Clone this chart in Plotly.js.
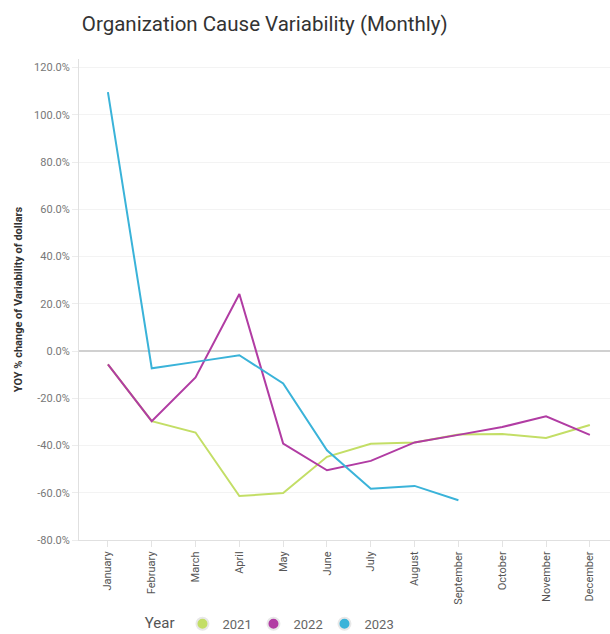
<!DOCTYPE html>
<html>
<head>
<meta charset="utf-8">
<script src="https://cdn.plot.ly/plotly-3.0.1.min.js"></script>
<style>html,body{margin:0;padding:0;background:#fff;}#chart{width:610px;height:634px;}</style>
</head>
<body>
<div id="chart"></div>
<script>
const months = ["January","February","March","April","May","June","July","August","September","October","November","December"];
const years = ["2021","2022","2023"];
const values2021 = [-5.7, -29.7, -34.5, -61.4, -60.1, -44.8, -39.3, -38.7, -35.3, -35.1, -36.8, -31.3];
const values2022 = [-5.7, -29.7, -11.2, 24.1, -39.2, -50.5, -46.5, -38.7, -35.5, -32.2, -27.6, -35.5];
const values2023 = [109.6, -7.3, -4.6, -1.8, -13.7, -42.0, -58.3, -57.1, -63.2];
const yTicks = [-80, -60, -40, -20, 0, 20, 40, 60, 80, 100, 120];
const yTickText = yTicks.map(v => v.toFixed(1) + "%");

const colors = ["#c3de66", "#b13ca3", "#3ab3d9"];
const series = [values2021, values2022, values2023];

const traces = [];
series.forEach((vals, i) => {
  traces.push({
    x: months.slice(0, vals.length),
    y: vals,
    type: "scatter",
    mode: "lines",
    line: {color: colors[i], width: 2},
    name: years[i],
    showlegend: false,
    hovertemplate: "%{x}: %{y:.1f}%<extra>" + years[i] + "</extra>"
  });
});
years.forEach((yr, i) => {
  traces.push({
    x: [months[0]],
    y: [null],
    type: "scatter",
    mode: "markers",
    marker: {color: colors[i], size: 12, line: {color: "#e8e8e8", width: 2}},
    name: yr,
    showlegend: true
  });
});

const layout = {
  width: 610,
  height: 634,
  margin: {l: 79, r: 0, t: 59, b: 94},
  paper_bgcolor: "#fff",
  plot_bgcolor: "#fff",
  font: {family: "Roboto, 'Open Sans', sans-serif", color: "#777"},
  title: {
    text: "Organization Cause Variability (Monthly)",
    font: {family: "Roboto, sans-serif", size: 20.5, color: "#333"},
    x: 0.434, xanchor: "center", y: 0.963, yanchor: "middle"
  },
  xaxis: {
    type: "category",
    categoryorder: "array",
    categoryarray: months,
    range: [-0.66, 11.46],
    tickangle: -90,
    tickfont: {size: 11, color: "#555"},
    ticks: "outside",
    ticklen: 6,
    tickcolor: "#e3e3e3",
    showgrid: false,
    showline: true,
    linecolor: "#e0e0e0",
    linewidth: 1,
    zeroline: false,
    automargin: false,
    fixedrange: true
  },
  yaxis: {
    range: [-80, 123.6],
    tickvals: yTicks,
    ticktext: yTickText,
    tickfont: {size: 11, color: "#777"},
    ticks: "outside",
    ticklen: 6,
    tickcolor: "#ececec",
    showgrid: true,
    gridcolor: "#f3f3f3",
    gridwidth: 1,
    zeroline: true,
    zerolinecolor: "#d0d0d0",
    zerolinewidth: 2,
    showline: true,
    linecolor: "#e0e0e0",
    linewidth: 1,
    automargin: false,
    title: {
      text: "YOY % change of Variability of dollars",
      font: {size: 11, color: "#333", family: "Roboto, sans-serif", weight: "bold"},
      standoff: 9
    },
    fixedrange: true
  },
  legend: {
    orientation: "h",
    xref: "container", yref: "container",
    x: 0.234, xanchor: "left",
    y: 0.016, yanchor: "middle",
    title: {text: "Year", font: {size: 15, color: "#555"}, side: "left"},
    font: {size: 13, color: "#666"},
    itemsizing: "constant",
    entrywidth: 26,
    tracegroupgap: 0
  },
  hovermode: "closest"
};

Plotly.newPlot("chart", traces, layout, {displayModeBar: false, responsive: false});
</script>
</body>
</html>
